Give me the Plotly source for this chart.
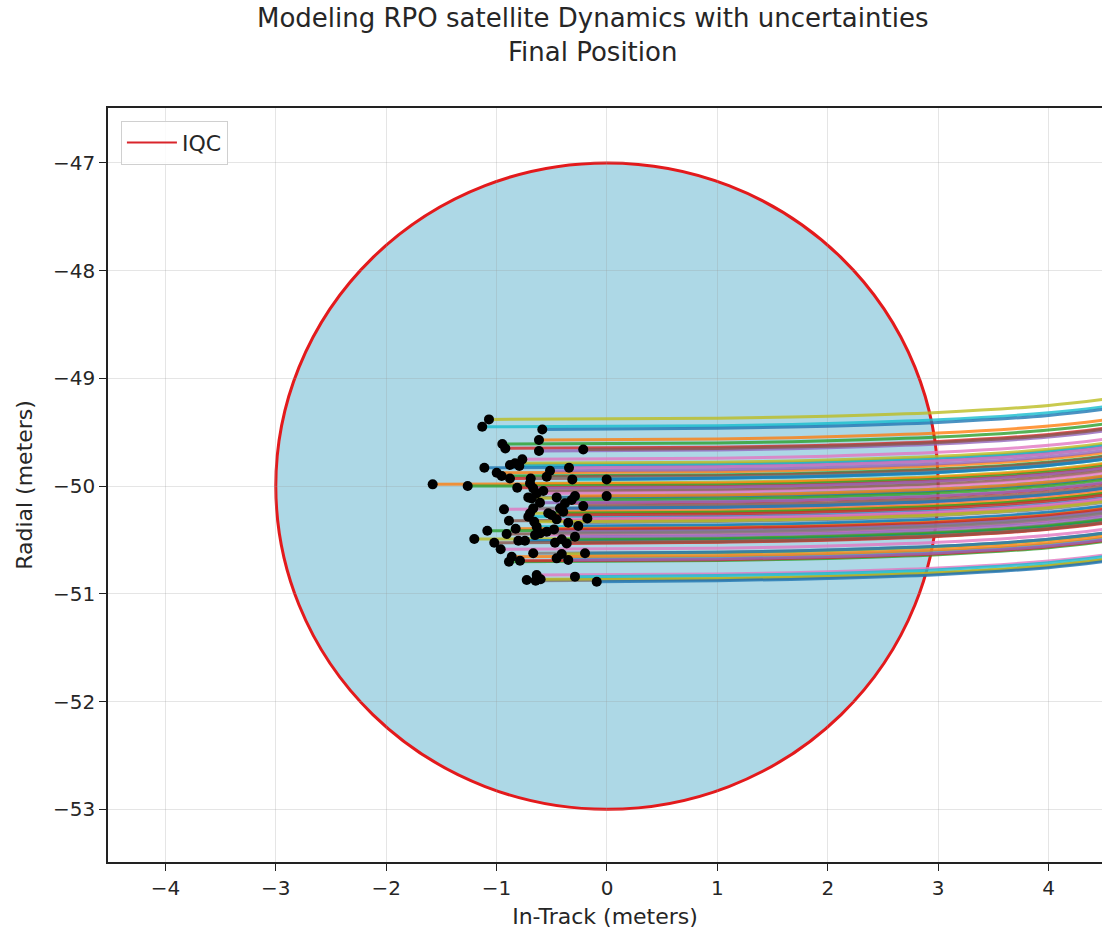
import plotly.graph_objects as go

# Final positions (In-Track, Radial)
final_x = [-1.069, -1.130, -0.586, -0.616, -0.948, -0.921, -0.616, -0.215, -0.767, -0.879,
           -0.833, -0.794, -1.111, -0.999, -0.954, -0.879, -0.516, -0.546, -0.344, -0.691,
           -0.697, -0.314, -0.003, -1.579, -1.262, -0.813, -0.668, -0.577, -0.637, -0.713,
           -0.682, -0.003, -0.456, -0.290, -0.320, -0.380, -0.607, -0.215, -0.933, -0.668,
           -0.697, -0.713, -0.426, -0.396, -0.532, -0.501, -0.178, -0.888, -0.456, -0.351,
           -0.659, -0.637, -0.260, -0.827, -1.084, -0.480, -0.546, -0.909, -0.652, -0.607,
           -1.202, -0.803, -0.743, -0.471, -0.410, -0.365, -0.290, -1.021, -0.963, -0.668,
           -0.410, -0.456, -0.199, -0.863, -0.888, -0.788, -0.351, -0.727, -0.637, -0.646,
           -0.601, -0.290, -0.093]
final_y = [-49.381, -49.450, -49.474, -49.573, -49.610, -49.650, -49.675, -49.660, -49.752, -49.805,
           -49.789, -49.814, -49.830, -49.877, -49.907, -49.929, -49.858, -49.914, -49.830, -49.929,
           -49.975, -49.938, -49.938, -49.984, -50.000, -50.016, -50.021, -50.046, -50.068, -50.105,
           -50.114, -50.093, -50.105, -50.093, -50.130, -50.160, -50.155, -50.186, -50.216, -50.207,
           -50.253, -50.285, -50.207, -50.238, -50.253, -50.269, -50.300, -50.322, -50.309, -50.340,
           -50.331, -50.378, -50.371, -50.396, -50.415, -50.402, -50.424, -50.445, -50.455, -50.439,
           -50.492, -50.507, -50.507, -50.526, -50.494, -50.532, -50.470, -50.526, -50.587, -50.624,
           -50.631, -50.671, -50.624, -50.656, -50.702, -50.693, -50.686, -50.872, -50.826, -50.878,
           -50.865, -50.841, -50.888]

# Trajectory rise (radial offset from final position) read at in-track stations
track_x = [1.0, 2.0, 3.0, 4.0, 4.6]
track_rise = [0.01, 0.03, 0.065, 0.13, 0.20]

# Keep-in circle (IQC)
circle_center = (0.0, -50.0)
circle_radius = 3.0

x_ticks = [-4, -3, -2, -1, 0, 1, 2, 3, 4]
y_ticks = [-53, -52, -51, -50, -49, -48, -47]

tab10 = ['#1f77b4', '#ff7f0e', '#2ca02c', '#d62728', '#9467bd',
         '#8c564b', '#e377c2', '#7f7f7f', '#bcbd22', '#17becf']

FONT = "DejaVu Sans"
TXT = "#262626"
fig = go.Figure()

for i, (x0, y0) in enumerate(zip(final_x, final_y)):
    xs = [x0] + track_x
    ys = [y0] + [y0 + r for r in track_rise]
    fig.add_trace(go.Scatter(
        x=xs, y=ys, mode="lines",
        line=dict(color=tab10[(i + 8) % 10], width=3, shape="spline"),
        opacity=0.8, showlegend=False, hoverinfo="skip"))

fig.add_trace(go.Scatter(
    x=final_x, y=final_y, mode="markers",
    marker=dict(color="black", size=10), showlegend=False))

# legend entry for the circle
fig.add_trace(go.Scatter(
    x=[None], y=[None], mode="lines", name="IQC",
    line=dict(color="#d9242b", width=2)))

cx, cy = circle_center
fig.add_shape(type="circle", xref="x", yref="y",
              x0=cx - circle_radius, x1=cx + circle_radius,
              y0=cy - circle_radius, y1=cy + circle_radius,
              fillcolor="#add8e6", line=dict(color="#e31a1c", width=3),
              layer="below")

def fmt(v):
    return ("\u2212" + str(abs(v))) if v < 0 else str(v)

TX = (592 - 108) / 994
fig.update_layout(
    width=1102, height=936,
    margin=dict(l=108, r=0, t=108, b=74),
    paper_bgcolor="white", plot_bgcolor="white",
    font=dict(family=FONT, size=20, color=TXT),
    legend=dict(x=0.013, y=0.983, xanchor="left", yanchor="top",
                bgcolor="rgba(255,255,255,0.85)", bordercolor="#d0d0d0",
                borderwidth=1, itemwidth=50,
                font=dict(size=22, family=FONT, color=TXT)),
    annotations=[
        dict(text="Modeling RPO satellite Dynamics with uncertainties<br>Final Position",
             xref="paper", yref="paper", x=TX, y=(862 - 35) / 754,
             xanchor="center", yanchor="middle", showarrow=False, align="center",
             font=dict(size=26, family=FONT, color=TXT)),
    ],
)

fig.update_xaxes(
    range=[-4.52, 4.484], tickvals=x_ticks, ticktext=[fmt(v) for v in x_ticks],
    showgrid=True, gridcolor="rgba(150,150,150,0.25)", gridwidth=1,
    zeroline=False, showline=True, linecolor="#222", linewidth=1.5, mirror=True,
    ticks="outside", ticklen=7, tickcolor="#222", tickwidth=1.3,
    tickfont=dict(size=20, family=FONT, color=TXT),
    title=dict(text="In-Track (meters)", font=dict(size=22, family=FONT, color=TXT), standoff=10),
)
fig.update_yaxes(
    range=[-53.49, -46.49], tickvals=y_ticks, ticktext=[fmt(v) for v in y_ticks],
    showgrid=True, gridcolor="rgba(150,150,150,0.25)", gridwidth=1,
    zeroline=False, showline=True, linecolor="#222", linewidth=1.5, mirror=False,
    ticks="outside", ticklen=7, tickcolor="#222", tickwidth=1.3,
    tickfont=dict(size=20, family=FONT, color=TXT),
    title=dict(text="Radial (meters)", font=dict(size=22, family=FONT, color=TXT), standoff=14),
)

fig.write_html("out.html")
